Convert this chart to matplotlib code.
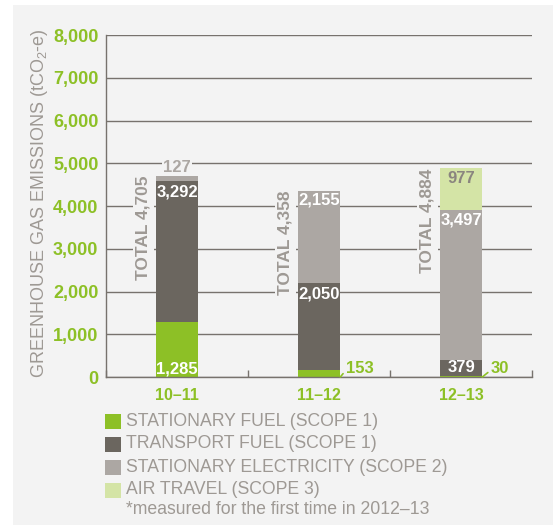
import matplotlib
matplotlib.use('Agg')
import numpy as np
import matplotlib.pyplot as plt
from matplotlib.patches import Rectangle

plt.rcParams['font.family'] = ['Liberation Sans', 'DejaVu Sans']

# data
years = ['10–11', '11–12', '12–13']
stationary_fuel = [1285, 153, 30]
transport_fuel = [3292, 2050, 379]
stationary_elec = [127, 2155, 3497]
air_travel = [0, 0, 977]
totals = [4705, 4358, 4884]
series_names = ['STATIONARY FUEL (SCOPE 1)', 'TRANSPORT FUEL (SCOPE 1)',
                'STATIONARY ELECTRICITY (SCOPE 2)', 'AIR TRAVEL (SCOPE 3)']
note = '*measured for the first time in 2012–13'
yticks = np.arange(0, 8001, 1000)

# style
GREEN = '#8dc026'
DARK = '#6b665f'
MID = '#aca7a3'
LIGHT = '#d4e4a6'
TXT = '#9e9994'
GRID = '#77726d'
PANEL = '#f3f3f3'
colors = [GREEN, DARK, MID, LIGHT]

fig = plt.figure(figsize=(5.53, 5.26), dpi=100, facecolor='white')
fig.patches.append(Rectangle((13 / 553, 1 / 526), 540 / 553, 520 / 526,
                             transform=fig.transFigure, facecolor=PANEL,
                             edgecolor='none', zorder=-5))

ax = fig.add_axes([106 / 553, 149 / 526, 426 / 553, 342 / 526])
ax.set_zorder(2)
ax.set_facecolor('none')
ax.set_xlim(-0.5, 2.5)
ax.set_ylim(0, 8000)

x = np.arange(len(years))
w = 0.3
stack = [stationary_fuel, transport_fuel, stationary_elec, air_travel]
bottom = np.zeros(len(years))
for vals, c in zip(stack, colors):
    ax.bar(x, vals, w, bottom=bottom, color=c, zorder=2)
    bottom += np.array(vals)

for v in yticks:
    ax.axhline(v, color=GRID, lw=1, zorder=1)

for s in ['top', 'right']:
    ax.spines[s].set_visible(False)
for s in ['left', 'bottom']:
    ax.spines[s].set_color(GRID)
    ax.spines[s].set_linewidth(1)

ax.set_yticks(yticks)
ax.set_yticklabels(['{:,}'.format(v) for v in yticks])
ax.tick_params(axis='y', length=0, pad=5.5, labelsize=13, labelcolor=GREEN)
for t in ax.get_yticklabels():
    t.set_fontweight('bold')
ax.set_xticks(x)
ax.set_xticklabels(years, fontweight='bold')
ax.tick_params(axis='x', length=0, pad=8, labelsize=11.5, labelcolor=GREEN)
ax.set_xticks([-0.5, 0.5, 1.5, 2.5], minor=True)
ax.tick_params(axis='x', which='minor', direction='in', length=5,
               color=GRID, width=1)

bold = dict(fontsize=12, fontweight='bold', zorder=4)

# segment labels
tf_top = np.array(stationary_fuel) + np.array(transport_fuel)
el_top = tf_top + np.array(stationary_elec)

ax.annotate('{:,}'.format(stationary_fuel[0]), (x[0], 0), xytext=(0, 0.5),
            textcoords='offset points', ha='center', va='bottom', color='white', **bold)
ax.annotate('{:,}'.format(transport_fuel[0]), (x[0], tf_top[0]), xytext=(0, -2),
            textcoords='offset points', ha='center', va='top', color='white', **bold)
ax.annotate('{:,}'.format(stationary_elec[0]), (x[0], el_top[0]), xytext=(0, 1),
            textcoords='offset points', ha='center', va='bottom', color=MID,
            bbox=dict(facecolor=PANEL, edgecolor='none', pad=1), **bold)

ax.annotate('{:,}'.format(stationary_elec[1]), (x[1], el_top[1]), xytext=(0, -1),
            textcoords='offset points', ha='center', va='top', color='white', **bold)
ax.annotate('{:,}'.format(transport_fuel[1]), (x[1], tf_top[1]), xytext=(0, -3),
            textcoords='offset points', ha='center', va='top', color='white', **bold)

ax.annotate('{:,}'.format(air_travel[2]), (x[2], totals[2]), xytext=(0, -2),
            textcoords='offset points', ha='center', va='top', color='#8a857f', **bold)
ax.annotate('{:,}'.format(stationary_elec[2]), (x[2], el_top[2]), xytext=(0, -2),
            textcoords='offset points', ha='center', va='top', color='white', **bold)
ax.annotate('{:,}'.format(transport_fuel[2]), (x[2], tf_top[2] / 2 + 20),
            ha='center', va='center', color='white', **bold)

for i in [1, 2]:
    ax.annotate('{:,}'.format(stationary_fuel[i]), (x[i] + w / 2, 0),
                xytext=(4 if i == 1 else 6, 0.5), textcoords='offset points',
                ha='left', va='bottom', color=GREEN,
                arrowprops=dict(arrowstyle='-', color=GREEN, lw=1.2,
                                shrinkA=0, shrinkB=0, relpos=(0, 0.4)), **bold)

# totals
for i, t in enumerate(totals):
    ax.annotate('TOTAL {:,}'.format(t), (x[i] - w / 2, t), xytext=(-3.5, 0),
                textcoords='offset points', ha='right', va='top', rotation=90,
                color=TXT, bbox=dict(facecolor=PANEL, edgecolor='none', pad=2),
                fontsize=12.5, fontweight='bold', zorder=4)

fig.text(40 / 553, 1 - 203 / 526, r'GREENHOUSE GAS EMISSIONS (tCO$_{\mathregular{2}}$-e)',
         rotation=90, ha='center', va='center', fontsize=13, color=TXT)

# legend
for k, (name, c) in enumerate(zip(series_names, colors)):
    yc = 1 - (421 + 23 * k) / 526
    fig.patches.append(Rectangle((105 / 553, yc - 7.5 / 526), 16 / 553, 15 / 526,
                                 transform=fig.transFigure, facecolor=c,
                                 edgecolor='none', zorder=3))
    fig.text(126 / 553, yc, name, ha='left', va='center', fontsize=12.7, color=TXT)
fig.text(126 / 553, 1 - 510 / 526, note, ha='left', va='center', fontsize=12.7, color=TXT)

fig.savefig('out.png', dpi=100, facecolor='white')
